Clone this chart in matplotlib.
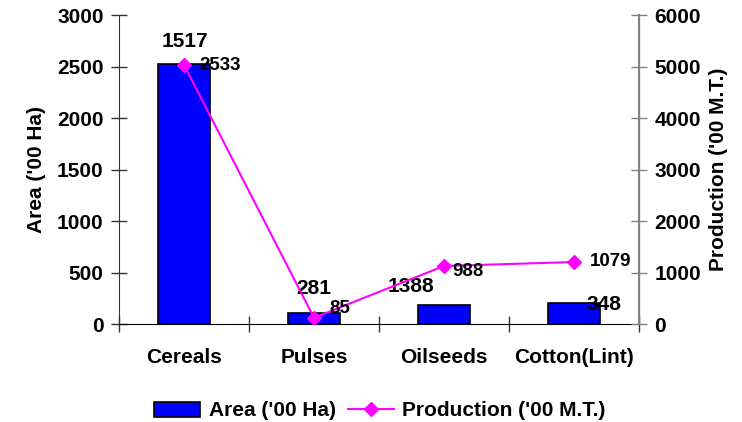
import numpy as np
import matplotlib.pyplot as plt
from matplotlib.lines import Line2D
from matplotlib.patches import Patch

plt.rcParams['font.family'] = ['Liberation Sans', 'DejaVu Sans']
plt.rcParams['font.weight'] = 'bold'

# Данные
categories = ['Cereals', 'Pulses', 'Oilseeds', 'Cotton(Lint)']
area = [2524, 107, 188, 204]            # '00 Ha (левая ось)
production = [5030, 122, 1126, 1204]    # '00 M.T. (правая ось)
area_labels = ['1517', '281', '1388', '348']
prod_labels = ['2533', '85', '988', '1079']

x = np.arange(len(categories))

fig = plt.figure(figsize=(7.42, 4.22), dpi=100)
ax = fig.add_axes([119 / 742, 1 - 324 / 422, 520 / 742, 309 / 422])
ax2 = ax.twinx()

# Столбцы
ax.bar(x, area, width=0.4, color='#0000ff', edgecolor='black', linewidth=1.2, zorder=2)
ax.set_ylim(0, 3000)
ax.set_xlim(-0.5, len(categories) - 0.5)
ax.set_yticks(np.arange(0, 3001, 500))

# Линия
ax2.plot(x, production, color='#ff00ff', marker='D', markersize=7, linewidth=1.5, zorder=3)
ax2.set_ylim(0, 6000)
ax2.set_yticks(np.arange(0, 6001, 1000))

# Подписи значений (смещения в пикселях, как в исходнике)
bar_offsets = [(1, 13), (0, 15), (-33, 9), (30, -2)]
for xi, v, lab, off in zip(x, area, area_labels, bar_offsets):
    ax.annotate(lab, (xi, v), xytext=off, textcoords='offset pixels',
                ha='center', va='bottom' if off[1] > 0 else 'center',
                fontsize=15, fontweight='bold')
line_offsets = [(15, -1), (15, 9), (8, -5), (16, 0)]
for xi, v, lab, off in zip(x, production, prod_labels, line_offsets):
    ax2.annotate(lab, (xi, v), xytext=off, textcoords='offset pixels',
                 ha='left', va='center', fontsize=13.5, fontweight='bold')

# Оси
ax.set_xticks(np.arange(-0.5, len(categories), 1.0))
ax.set_xticklabels([])
ax.set_xticks(x, minor=True)
ax.set_xticklabels(categories, minor=True, fontsize=15, fontweight='bold')
ax.tick_params(axis='x', which='major', direction='inout', length=12, width=1, color='#333333')
ax.tick_params(axis='x', which='minor', length=0, pad=17)
ax.tick_params(axis='y', direction='inout', length=12, width=1, color='#333333', labelsize=15, pad=5)
ax2.tick_params(axis='y', direction='inout', length=12, width=1, color='#808080', labelsize=15, pad=5)

for s in ['top']:
    ax.spines[s].set_visible(False)
    ax2.spines[s].set_visible(False)
ax.spines['left'].set_color('#333333')
ax.spines['bottom'].set_color('black')
ax2.spines['right'].set_color('#808080')
ax2.spines['right'].set_linewidth(1.5)
ax2.spines['left'].set_visible(False)
ax2.spines['bottom'].set_visible(False)

ax.set_ylabel("Area ('00 Ha)", fontsize=15, fontweight='bold', labelpad=8)
ax2.set_ylabel("Production ('00 M.T.)", fontsize=15, fontweight='bold', labelpad=6)

# Легенда
handles = [Patch(facecolor='#0000ff', edgecolor='black', linewidth=1.2),
           Line2D([0], [0], color='#ff00ff', marker='D', markersize=7, linewidth=1.5)]
fig.legend(handles, ["Area ('00 Ha)", "Production ('00 M.T.)"],
           loc='center', bbox_to_anchor=(380 / 742, 1 - 411 / 422), ncol=2,
           frameon=False, handlelength=2.2, handletextpad=0.4,
           columnspacing=0.6, prop={'weight': 'bold', 'size': 15})

fig.savefig('out.png', dpi=100)
